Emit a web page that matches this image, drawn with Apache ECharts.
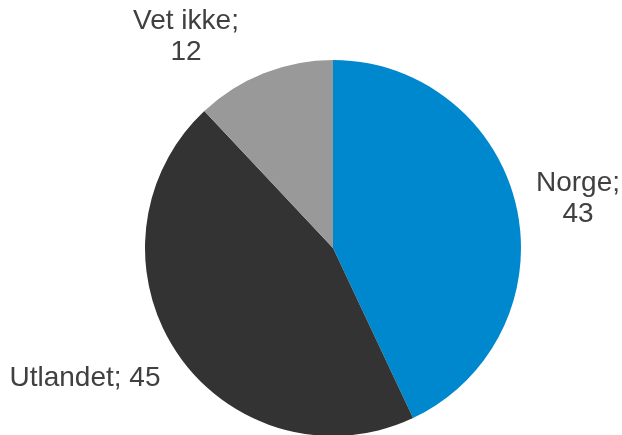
<!DOCTYPE html>
<html>
<head>
<meta charset="utf-8">
<script src="https://cdn.jsdelivr.net/npm/echarts@6/dist/echarts.min.js"></script>
<style>html,body{margin:0;padding:0;background:#fff;}#c{width:622px;height:435px;}</style>
</head>
<body>
<div id="c"></div>
<script>
var categories = ['Norge', 'Utlandet', 'Vet ikke'];
var values = [43, 45, 12];
var labelTexts = ['Norge;\n43', 'Utlandet; 45', 'Vet ikke;\n12'];
var colors = ['#0088CE', '#333333', '#999999'];
var labelPos = [[578, 199], [85, 378], [186, 37]];

var chart = echarts.init(document.getElementById('c'), null, {renderer: 'canvas'});
var data = categories.map(function (c, i) {
  return {name: c, value: values[i], itemStyle: {color: colors[i]}, label: {formatter: labelTexts[i]}};
});
chart.setOption({
  animation: false,
  series: [{
    type: 'pie',
    center: [333, 248],
    radius: [0, 188],
    startAngle: 90,
    clockwise: true,
    data: data,
    itemStyle: {borderWidth: 0},
    label: {
      show: true,
      position: 'outside',
      alignTo: 'none',
      overflow: 'none',
      width: 300,
      color: '#404040',
      fontFamily: 'Liberation Sans, Arial, sans-serif',
      fontSize: 28,
      lineHeight: 31,
      align: 'center'
    },
    labelLine: {show: false},
    labelLayout: function (p) {
      return {x: labelPos[p.dataIndex][0], y: labelPos[p.dataIndex][1], align: 'center', verticalAlign: 'middle'};
    },
    emphasis: {disabled: true}
  }]
});
</script>
</body>
</html>
